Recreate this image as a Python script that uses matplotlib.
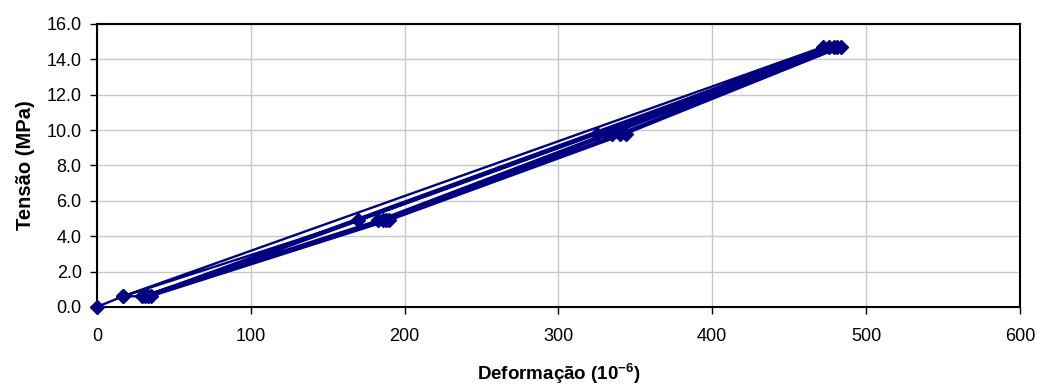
import matplotlib.pyplot as plt

plt.rcParams['font.family'] = ['Liberation Sans', 'DejaVu Sans']

# strain (10^-6) and stress (MPa), in the order the readings were taken
deformacao = [0, 17, 170, 325, 472, 17,
              29, 183, 331, 476, 31,
              186, 335, 479, 33,
              188, 340, 481, 35,
              190, 344, 484]
tensao = [0.0, 0.6, 4.9, 9.8, 14.7, 0.6,
          0.6, 4.9, 9.8, 14.7, 0.6,
          4.9, 9.8, 14.7, 0.6,
          4.9, 9.8, 14.7, 0.6,
          4.9, 9.8, 14.7]

x_ticks = [0, 100, 200, 300, 400, 500, 600]
y_ticks = [0, 2, 4, 6, 8, 10, 12, 14, 16]

fig = plt.figure(figsize=(10.37, 3.87), dpi=100)
ax = fig.add_axes([0.0935, 0.207, 0.89, 0.731])

ax.plot(deformacao, tensao, color='#000080', lw=1.7, marker='D',
        markersize=7.5, markeredgecolor='#000080', zorder=3, clip_on=False)

ax.set_xlim(0, 600)
ax.set_ylim(0, 16)
ax.set_xticks(x_ticks)
ax.set_yticks(y_ticks)
ax.set_yticklabels(['%.1f' % v for v in y_ticks])
ax.grid(True, color='#c8c8c8', lw=1)
ax.set_axisbelow(True)
for s in ax.spines.values():
    s.set_linewidth(1.5)
    s.set_color('black')
ax.tick_params(labelsize=13, length=5, width=1)
ax.tick_params(axis='x', pad=10)
ax.tick_params(axis='y', pad=6)

ax.set_xlabel('Deformação (10$^{\\mathregular{-6}}$)', fontsize=13.5,
              fontweight='bold', labelpad=12)
ax.set_ylabel('Tensão (MPa)', fontsize=14.5, fontweight='bold', labelpad=8)

fig.savefig('out.png', dpi=100)
